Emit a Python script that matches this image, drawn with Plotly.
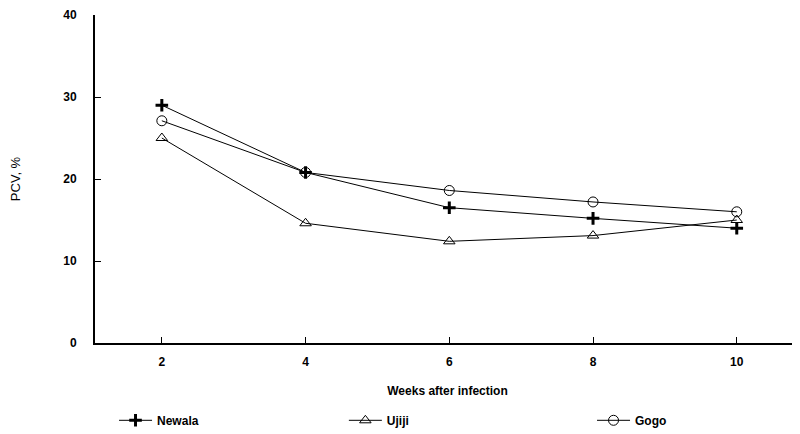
import plotly.graph_objects as go

weeks = [2, 4, 6, 8, 10]
newala = [29.0, 20.8, 16.5, 15.2, 14.0]
ujiji = [25.0, 14.6, 12.4, 13.1, 15.0]
gogo = [27.1, 20.8, 18.6, 17.2, 16.0]

x_ticks = [2, 4, 6, 8, 10]
y_ticks = [0, 10, 20, 30, 40]

font = "Liberation Sans, Arial, sans-serif"

fig = go.Figure()
fig.add_trace(go.Scatter(x=weeks, y=newala, name="Newala", mode="lines+markers",
                         legend="legend",
                         line=dict(color="black", width=1),
                         marker=dict(symbol="cross-thin", size=9, color="black",
                                     line=dict(color="black", width=3))))
fig.add_trace(go.Scatter(x=weeks, y=ujiji, name="Ujiji", mode="lines+markers",
                         legend="legend2",
                         line=dict(color="black", width=1),
                         marker=dict(symbol="triangle-up-open", size=10, color="black",
                                     line=dict(color="black", width=1))))
fig.add_trace(go.Scatter(x=weeks, y=gogo, name="Gogo", mode="lines+markers",
                         legend="legend3",
                         line=dict(color="black", width=1),
                         marker=dict(symbol="circle-open", size=10, color="black",
                                     line=dict(color="black", width=1))))

leg_common = dict(orientation="h", xanchor="left", yref="container", y=0.05,
                  yanchor="middle", itemwidth=33, bgcolor="rgba(0,0,0,0)",
                  font=dict(family=font, size=12, weight="bold"))

fig.update_layout(
    width=800, height=434,
    margin=dict(l=87, r=8, t=7, b=99, autoexpand=False),
    paper_bgcolor="white", plot_bgcolor="white",
    font=dict(family=font, color="black", size=12),
    showlegend=True,
    legend=dict(x=0.027, **leg_common),
    legend2=dict(x=0.353, **leg_common),
    legend3=dict(x=0.705, **leg_common),
)
fig.update_xaxes(range=[1.07, 10.88], tickvals=x_ticks, ticktext=[str(v) for v in x_ticks],
                 automargin=False,
                 showgrid=False, zeroline=False, showline=True, linecolor="black", linewidth=2,
                 ticks="inside", ticklen=6, tickcolor="black", ticklabelstandoff=7,
                 tickfont=dict(family=font, size=12, weight="bold"),
                 title=dict(text="Weeks after infection", standoff=18,
                            font=dict(family=font, size=12, weight="bold")))
fig.update_yaxes(range=[0, 40], tickvals=y_ticks, ticktext=[str(v) for v in y_ticks],
                 automargin=False,
                 showgrid=False, zeroline=False, showline=True, linecolor="black", linewidth=2,
                 ticks="inside", ticklen=6, tickcolor="black", ticklabelstandoff=14,
                 tickfont=dict(family=font, size=12, weight="bold"),
                 title=dict(text="PCV, %", standoff=57,
                            font=dict(family=font, size=13)))

fig.write_html("out.html")
